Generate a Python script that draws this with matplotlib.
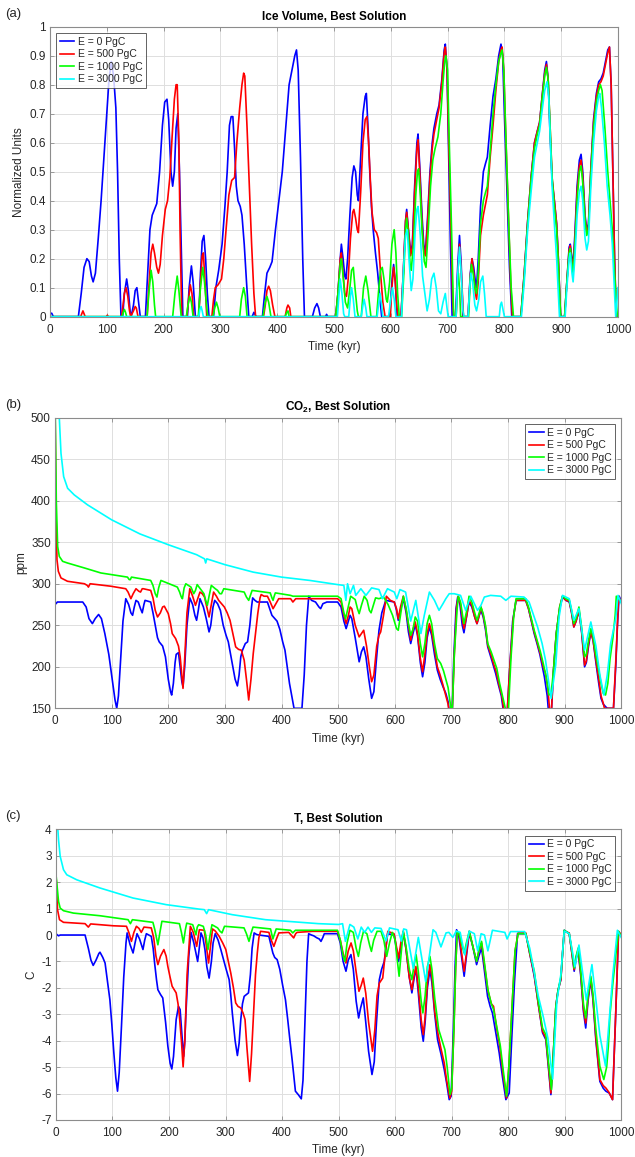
import numpy as np
import matplotlib
matplotlib.use('Agg')
import matplotlib.pyplot as plt
from matplotlib.ticker import FuncFormatter

plt.rcParams['font.family'] = ['Liberation Sans', 'DejaVu Sans']
plt.rcParams['mathtext.fontset'] = 'custom'
plt.rcParams['mathtext.rm'] = 'Liberation Sans'
plt.rcParams['mathtext.bf'] = 'Liberation Sans:bold'

emissions = [0, 500, 1000, 3000]
colors = ['#0000ff', '#ff0000', '#00ff00', '#00ffff']

# ---- ice volume (normalized), (time kyr, value) ----
ice_e0 = [(0, 0.01), (3, 0.012), (6, 0), (50, 0), (55, 0.08), (60, 0.17), (65, 0.2), (69, 0.19), (73, 0.14),
          (76, 0.12), (80, 0.15), (85, 0.27), (90, 0.4), (95, 0.55), (100, 0.7), (104, 0.82), (108, 0.88),
          (112, 0.83), (116, 0.72), (119, 0.5), (122, 0.2), (125, 0), (128, 0), (131, 0.08), (135, 0.13),
          (138, 0.09), (141, 0.02), (143, 0), (147, 0.04), (150, 0.09), (153, 0.1), (156, 0.05), (159, 0),
          (168, 0), (172, 0.15), (176, 0.3), (180, 0.35), (184, 0.37), (188, 0.39), (193, 0.5), (198, 0.66),
          (202, 0.74), (206, 0.75), (209, 0.68), (213, 0.5), (216, 0.45), (219, 0.5), (222, 0.65), (225, 0.7),
          (228, 0.5), (231, 0.25), (234, 0), (242, 0), (245, 0.1), (249, 0.175), (252, 0.12), (256, 0),
          (262, 0), (265, 0.15), (268, 0.26), (271, 0.28), (274, 0.2), (277, 0.08), (280, 0), (288, 0),
          (292, 0.1), (297, 0.16), (303, 0.25), (308, 0.38), (312, 0.5), (316, 0.66), (319, 0.69), (322, 0.69),
          (325, 0.58), (328, 0.45), (331, 0.4), (335, 0.38), (338, 0.35), (342, 0.25), (346, 0.12), (350, 0),
          (356, 0), (359, 0.015), (363, 0), (374, 0), (378, 0.08), (382, 0.15), (387, 0.17), (391, 0.19),
          (397, 0.3), (403, 0.4), (409, 0.5), (415, 0.65), (421, 0.8), (426, 0.85), (431, 0.9), (434, 0.92),
          (437, 0.85), (441, 0.55), (445, 0.2), (448, 0), (462, 0), (466, 0.03), (470, 0.045), (473, 0.03),
          (476, 0), (485, 0), (487, 0.008), (489, 0), (503, 0), (507, 0.08), (511, 0.2), (513, 0.25),
          (516, 0.2), (519, 0.14), (521, 0.13), (524, 0.2), (528, 0.35), (532, 0.48), (535, 0.52), (538, 0.5),
          (541, 0.42), (543, 0.4), (547, 0.55), (551, 0.7), (555, 0.76), (557, 0.77), (560, 0.65), (563, 0.5),
          (566, 0.38), (569, 0.3), (573, 0.22), (577, 0.15), (581, 0.06), (584, 0), (598, 0), (602, 0.12),
          (605, 0.18), (608, 0.12), (611, 0), (618, 0), (622, 0.15), (626, 0.33), (628, 0.37), (631, 0.3),
          (635, 0.22), (638, 0.25), (642, 0.45), (646, 0.6), (648, 0.63), (651, 0.52), (655, 0.35), (658, 0.25),
          (661, 0.22), (665, 0.35), (669, 0.5), (673, 0.6), (676, 0.65), (681, 0.7), (685, 0.73), (690, 0.82),
          (694, 0.92), (696, 0.94), (699, 0.85), (702, 0.55), (705, 0.25), (708, 0), (714, 0), (718, 0.18),
          (721, 0.28), (724, 0.18), (727, 0), (736, 0), (740, 0.15), (743, 0.2), (746, 0.17), (749, 0.12),
          (751, 0.1), (754, 0.2), (758, 0.38), (763, 0.5), (767, 0.53), (770, 0.55), (775, 0.66), (780, 0.76),
          (785, 0.82), (790, 0.9), (794, 0.94), (797, 0.9), (800, 0.7), (805, 0.4), (809, 0.17), (813, 0),
          (829, 0), (835, 0.15), (841, 0.33), (847, 0.48), (853, 0.6), (858, 0.64), (862, 0.67), (867, 0.77),
          (871, 0.85), (874, 0.88), (877, 0.82), (880, 0.65), (884, 0.47), (888, 0.4), (892, 0.32), (895, 0.2),
          (899, 0), (906, 0), (910, 0.12), (914, 0.24), (916, 0.25), (919, 0.2), (921, 0.18), (924, 0.28),
          (928, 0.45), (932, 0.54), (935, 0.56), (938, 0.5), (942, 0.35), (945, 0.3), (948, 0.32), (952, 0.5),
          (957, 0.68), (962, 0.77), (966, 0.81), (970, 0.82), (974, 0.84), (978, 0.88), (982, 0.92), (985, 0.93),
          (988, 0.8), (991, 0.5), (994, 0.2), (997, 0), (1000, 0)]

ice_e500 = [(0, 0), (54, 0), (56, 0.01), (58, 0.02), (60, 0.01), (62, 0), (99, 0), (101, 0.005), (103, 0),
            (126, 0), (128, 0.03), (131, 0.08), (134, 0.1), (137, 0.07), (140, 0.02), (142, 0), (147, 0.02),
            (150, 0.035), (152, 0.03), (155, 0), (171, 0), (174, 0.1), (178, 0.22), (181, 0.25), (184, 0.22),
            (188, 0.17), (191, 0.15), (194, 0.18), (198, 0.28), (203, 0.37), (207, 0.4), (211, 0.48),
            (215, 0.62), (219, 0.75), (222, 0.8), (224, 0.8), (227, 0.6), (229, 0.3), (232, 0), (241, 0),
            (244, 0.06), (247, 0.11), (250, 0.08), (253, 0), (262, 0), (265, 0.12), (268, 0.21), (270, 0.22),
            (273, 0.12), (276, 0), (285, 0), (288, 0.06), (291, 0.1), (296, 0.11), (302, 0.13), (306, 0.2),
            (310, 0.3), (315, 0.42), (320, 0.47), (325, 0.48), (329, 0.6), (334, 0.72), (338, 0.8), (341, 0.84),
            (343, 0.83), (347, 0.65), (351, 0.45), (355, 0.25), (359, 0.08), (362, 0), (376, 0), (379, 0.04),
            (382, 0.09), (385, 0.105), (388, 0.09), (392, 0.04), (396, 0), (414, 0), (417, 0.03), (419, 0.04),
            (422, 0.03), (424, 0), (503, 0), (507, 0.08), (511, 0.2), (513, 0.22), (516, 0.15), (519, 0.08),
            (522, 0.07), (525, 0.13), (529, 0.27), (533, 0.36), (535, 0.37), (538, 0.34), (541, 0.3),
            (543, 0.29), (547, 0.43), (551, 0.6), (555, 0.68), (558, 0.69), (561, 0.6), (564, 0.47),
            (567, 0.36), (571, 0.3), (575, 0.29), (578, 0.27), (582, 0.15), (586, 0.05), (590, 0), (599, 0),
            (602, 0.1), (605, 0.17), (608, 0.12), (611, 0.03), (613, 0), (618, 0), (622, 0.15), (626, 0.33),
            (628, 0.36), (631, 0.3), (635, 0.21), (638, 0.24), (642, 0.43), (646, 0.58), (648, 0.61),
            (651, 0.5), (655, 0.32), (658, 0.23), (661, 0.21), (665, 0.33), (669, 0.48), (673, 0.58),
            (676, 0.63), (681, 0.68), (685, 0.72), (690, 0.81), (694, 0.91), (696, 0.93), (699, 0.86),
            (702, 0.6), (706, 0.3), (709, 0.05), (711, 0), (715, 0), (718, 0.15), (721, 0.25), (724, 0.16),
            (728, 0), (736, 0), (740, 0.14), (743, 0.2), (746, 0.15), (749, 0.08), (751, 0.06), (754, 0.12),
            (758, 0.28), (763, 0.35), (767, 0.39), (770, 0.42), (775, 0.55), (780, 0.66), (785, 0.78),
            (790, 0.88), (794, 0.92), (796, 0.93), (799, 0.85), (802, 0.65), (807, 0.35), (811, 0.12), (814, 0),
            (829, 0), (835, 0.15), (841, 0.33), (847, 0.48), (853, 0.6), (858, 0.64), (862, 0.67), (867, 0.77),
            (871, 0.84), (874, 0.87), (877, 0.82), (880, 0.68), (884, 0.48), (888, 0.4), (892, 0.32),
            (895, 0.2), (899, 0), (906, 0), (910, 0.12), (914, 0.23), (916, 0.245), (919, 0.19), (921, 0.16),
            (924, 0.26), (928, 0.43), (932, 0.52), (935, 0.54), (938, 0.48), (942, 0.34), (945, 0.29),
            (948, 0.31), (952, 0.5), (957, 0.67), (962, 0.76), (966, 0.8), (970, 0.81), (974, 0.83),
            (978, 0.87), (982, 0.91), (985, 0.93), (988, 0.8), (991, 0.5), (994, 0.2), (997, 0), (1000, 0)]

ice_e1000 = [(0, 0), (127, 0), (129, 0.015), (131, 0.025), (133, 0.015), (135, 0), (171, 0), (174, 0.08),
             (178, 0.16), (181, 0.12), (184, 0.04), (186, 0), (216, 0), (220, 0.08), (224, 0.14), (227, 0.09),
             (231, 0), (240, 0), (243, 0.04), (246, 0.07), (249, 0.05), (252, 0), (261, 0), (265, 0.1),
             (269, 0.17), (272, 0.12), (276, 0.03), (278, 0), (287, 0), (290, 0.03), (293, 0.05), (296, 0.03),
             (299, 0), (334, 0), (337, 0.06), (341, 0.1), (344, 0.07), (347, 0), (375, 0), (379, 0.05),
             (382, 0.07), (385, 0.05), (389, 0), (414, 0), (417, 0.015), (419, 0.02), (421, 0), (503, 0),
             (507, 0.08), (511, 0.18), (513, 0.2), (516, 0.14), (520, 0.05), (524, 0.03), (528, 0.1),
             (531, 0.16), (534, 0.17), (537, 0.1), (541, 0.02), (543, 0), (548, 0), (552, 0.1), (556, 0.14),
             (560, 0.09), (565, 0), (575, 0), (579, 0.1), (582, 0.16), (585, 0.17), (588, 0.13), (592, 0.06),
             (594, 0.05), (598, 0.12), (602, 0.25), (606, 0.3), (609, 0.22), (612, 0.08), (615, 0), (619, 0),
             (623, 0.15), (626, 0.3), (628, 0.34), (631, 0.28), (634, 0.18), (636, 0.16), (640, 0.25),
             (644, 0.42), (647, 0.5), (649, 0.51), (652, 0.42), (655, 0.3), (659, 0.19), (662, 0.17),
             (666, 0.3), (670, 0.45), (674, 0.54), (678, 0.58), (683, 0.62), (688, 0.7), (692, 0.81),
             (695, 0.88), (697, 0.9), (700, 0.85), (703, 0.6), (707, 0.3), (710, 0.05), (711, 0), (715, 0),
             (717, 0.1), (719, 0.15), (721, 0.1), (723, 0), (737, 0), (740, 0.13), (742, 0.18), (745, 0.15),
             (748, 0.1), (751, 0.08), (754, 0.15), (758, 0.32), (763, 0.4), (767, 0.43), (770, 0.45),
             (775, 0.57), (780, 0.7), (785, 0.8), (790, 0.88), (794, 0.91), (796, 0.92), (799, 0.85),
             (803, 0.6), (808, 0.3), (812, 0.1), (816, 0), (829, 0), (835, 0.14), (841, 0.32), (847, 0.47),
             (853, 0.58), (858, 0.63), (862, 0.66), (867, 0.76), (871, 0.83), (874, 0.86), (877, 0.82),
             (880, 0.68), (884, 0.48), (888, 0.38), (892, 0.3), (895, 0.18), (899, 0), (906, 0), (910, 0.12),
             (914, 0.22), (916, 0.235), (919, 0.18), (921, 0.15), (924, 0.24), (928, 0.4), (932, 0.5),
             (935, 0.52), (938, 0.46), (942, 0.33), (945, 0.28), (948, 0.3), (952, 0.48), (957, 0.65),
             (962, 0.74), (966, 0.78), (969, 0.8), (972, 0.78), (977, 0.65), (982, 0.5), (986, 0.4),
             (990, 0.3), (994, 0.15), (997, 0.05), (999, 0), (1000, 0)]

ice_e3000 = [(0, 0), (262, 0), (264, 0.025), (266, 0.035), (268, 0.02), (270, 0), (506, 0), (509, 0.08),
             (511, 0.13), (514, 0.08), (517, 0.01), (519, 0), (526, 0), (529, 0.07), (531, 0.1), (534, 0.06),
             (537, 0), (548, 0), (551, 0.04), (553, 0.06), (556, 0.03), (558, 0), (576, 0), (579, 0.05),
             (581, 0.08), (584, 0.04), (586, 0), (596, 0), (600, 0.06), (603, 0.1), (606, 0.06), (609, 0),
             (619, 0), (622, 0.15), (626, 0.28), (629, 0.3), (632, 0.2), (636, 0.09), (639, 0.13), (643, 0.3),
             (646, 0.37), (648, 0.38), (652, 0.28), (656, 0.14), (660, 0.08), (664, 0.02), (668, 0.06),
             (672, 0.13), (676, 0.15), (680, 0.1), (684, 0.02), (688, 0.01), (692, 0.05), (696, 0.08),
             (699, 0.03), (701, 0), (715, 0), (718, 0.15), (721, 0.24), (724, 0.15), (727, 0.02), (729, 0),
             (736, 0), (739, 0.1), (741, 0.15), (744, 0.12), (748, 0.04), (751, 0.02), (755, 0.06),
             (758, 0.12), (762, 0.14), (765, 0.08), (768, 0), (791, 0), (793, 0.04), (795, 0.05), (798, 0.02),
             (800, 0), (830, 0), (835, 0.12), (841, 0.3), (847, 0.43), (853, 0.55), (858, 0.6), (862, 0.64),
             (867, 0.72), (871, 0.78), (875, 0.81), (878, 0.76), (881, 0.6), (884, 0.45), (888, 0.32),
             (892, 0.2), (895, 0.08), (897, 0), (907, 0), (910, 0.1), (914, 0.2), (916, 0.22), (919, 0.15),
             (921, 0.12), (924, 0.2), (928, 0.35), (932, 0.43), (935, 0.45), (938, 0.4), (942, 0.27),
             (945, 0.23), (948, 0.26), (952, 0.44), (957, 0.6), (962, 0.71), (966, 0.76), (968, 0.77),
             (971, 0.72), (976, 0.6), (981, 0.45), (986, 0.35), (990, 0.25), (994, 0.08), (996, 0),
             (998, 0.05), (1000, 0.1)]

# ---- CO2 (ppm) ----
co2_e0 = [(0, 278), (2, 276), (4, 278), (49, 278), (55, 272), (60, 258), (66, 252), (71, 258), (77, 263),
          (82, 258), (88, 240), (95, 215), (101, 185), (106, 160), (109, 150), (112, 165), (116, 210),
          (120, 255), (125, 282), (130, 275), (134, 265), (137, 262), (140, 272), (143, 280), (147, 278),
          (151, 270), (154, 265), (157, 275), (159, 280), (169, 278), (173, 265), (177, 250), (181, 235),
          (184, 230), (190, 225), (195, 212), (200, 185), (204, 170), (206, 166), (209, 180), (212, 205),
          (214, 215), (218, 217), (221, 200), (224, 182), (226, 176), (229, 200), (233, 250), (238, 283),
          (243, 275), (247, 262), (250, 256), (253, 268), (256, 282), (262, 272), (267, 258), (272, 242),
          (275, 250), (279, 272), (282, 280), (287, 276), (292, 268), (297, 250), (302, 238), (306, 230),
          (310, 215), (314, 200), (318, 185), (322, 177), (325, 190), (328, 212), (331, 220), (336, 228),
          (340, 230), (344, 250), (347, 272), (349, 283), (353, 280), (357, 278), (375, 278), (379, 270),
          (383, 262), (388, 258), (392, 255), (397, 245), (402, 230), (406, 220), (410, 200), (414, 180),
          (418, 165), (422, 150), (436, 150), (440, 190), (444, 250), (448, 285), (453, 280), (460, 278),
          (466, 272), (469, 270), (473, 276), (480, 278), (499, 278), (505, 272), (510, 255), (514, 246),
          (518, 255), (521, 262), (524, 258), (530, 235), (537, 206), (541, 218), (545, 224), (549, 212),
          (554, 185), (559, 162), (563, 170), (567, 205), (572, 244), (577, 265), (584, 280), (592, 279),
          (599, 278), (603, 268), (606, 256), (610, 268), (615, 282), (620, 265), (624, 242), (628, 228),
          (632, 240), (636, 251), (640, 238), (645, 205), (649, 188), (653, 205), (657, 235), (661, 248),
          (665, 238), (670, 215), (675, 196), (680, 185), (685, 176), (690, 168), (694, 158), (697, 140),
          (701, 140), (704, 210), (708, 270), (711, 284), (715, 275), (719, 250), (722, 241), (726, 258),
          (731, 278), (736, 272), (741, 260), (745, 252), (749, 262), (752, 268), (756, 260), (760, 245),
          (764, 224), (768, 215), (772, 206), (778, 192), (783, 178), (788, 165), (793, 140), (798, 140),
          (802, 190), (808, 255), (814, 280), (822, 280), (831, 280), (836, 270), (841, 255), (846, 240),
          (851, 228), (856, 215), (861, 198), (864, 188), (869, 165), (872, 140), (876, 140), (880, 195),
          (885, 240), (891, 270), (896, 284), (902, 280), (908, 278), (912, 265), (916, 248), (920, 255),
          (925, 268), (930, 240), (935, 200), (938, 205), (942, 225), (946, 242), (950, 232), (955, 205),
          (960, 180), (964, 162), (968, 155), (972, 152), (975, 150), (986, 150), (990, 200), (993, 250),
          (996, 285), (998, 282), (1000, 279)]

co2_e500 = [(0, 520), (1.8, 385), (3.5, 329), (5.9, 315), (10.6, 307), (22, 303), (52, 300), (57, 298),
            (59, 296), (62, 300), (99, 297), (125, 294), (129, 290), (134, 282), (138, 288), (143, 294),
            (148, 291), (151, 290), (154, 294), (156, 294), (169, 292), (173, 283), (177, 268), (181, 260),
            (186, 265), (190, 272), (193, 273), (197, 268), (200, 264), (204, 252), (207, 240), (213, 234),
            (218, 225), (221, 212), (224, 190), (226, 174), (229, 210), (233, 265), (238, 294), (243, 285),
            (248, 274), (252, 282), (256, 290), (260, 288), (264, 284), (268, 272), (272, 260), (276, 275),
            (280, 290), (285, 285), (289, 280), (294, 276), (299, 272), (304, 265), (309, 256), (314, 240),
            (319, 224), (324, 221), (329, 220), (334, 208), (338, 185), (342, 160), (346, 185), (350, 216),
            (354, 240), (358, 264), (362, 283), (364, 287), (369, 285), (375, 285), (380, 278), (385, 270),
            (390, 276), (395, 282), (416, 282), (420, 278), (425, 282), (499, 282), (505, 278), (510, 262),
            (514, 252), (518, 262), (521, 272), (524, 270), (530, 250), (537, 236), (541, 240), (545, 244),
            (550, 225), (555, 200), (559, 182), (563, 190), (568, 225), (572, 238), (575, 242), (580, 262),
            (585, 285), (592, 280), (599, 278), (603, 270), (606, 258), (610, 272), (615, 285), (620, 268),
            (624, 250), (628, 232), (632, 245), (636, 254), (640, 240), (645, 210), (649, 194), (653, 215),
            (657, 240), (661, 252), (665, 242), (670, 222), (675, 200), (680, 190), (685, 178), (690, 165),
            (694, 155), (697, 140), (701, 140), (705, 215), (709, 272), (712, 285), (716, 275), (720, 254),
            (722, 246), (727, 262), (731, 280), (736, 274), (741, 260), (745, 252), (749, 262), (752, 272),
            (756, 262), (760, 248), (764, 226), (770, 214), (775, 202), (779, 194), (784, 178), (789, 165),
            (794, 140), (798, 140), (803, 200), (809, 258), (814, 280), (822, 280), (831, 280), (836, 270),
            (841, 256), (846, 242), (851, 230), (857, 215), (862, 200), (866, 192), (870, 175), (873, 150),
            (876, 140), (880, 195), (885, 240), (891, 272), (896, 285), (902, 280), (908, 279), (912, 266),
            (916, 248), (920, 255), (925, 268), (930, 242), (935, 202), (938, 207), (942, 228), (946, 242),
            (950, 232), (955, 208), (960, 185), (964, 165), (968, 156), (970, 150), (986, 150), (991, 220),
            (995, 285), (998, 280), (1000, 279)]

co2_e1000 = [(0, 520), (0.6, 500), (2.3, 400), (4.7, 345), (7.6, 333), (13.5, 327), (22, 325), (52, 319),
             (81, 313), (128, 308), (131, 305), (133, 305), (135, 308), (169, 304), (173, 298), (177, 288),
             (180, 284), (183, 295), (187, 304), (198, 301), (216, 296), (220, 290), (223, 284), (225, 282),
             (228, 295), (231, 300), (240, 296), (245, 288), (248, 292), (251, 299), (263, 288), (266, 280),
             (269, 274), (272, 285), (276, 298), (283, 294), (287, 292), (291, 288), (294, 288), (298, 294),
             (334, 290), (338, 284), (342, 280), (345, 286), (348, 292), (380, 289), (383, 283), (385, 280),
             (387, 285), (389, 289), (416, 286), (420, 285), (499, 285), (505, 282), (510, 265), (513, 258),
             (517, 270), (522, 285), (530, 281), (534, 270), (537, 264), (541, 274), (546, 285), (551, 280),
             (555, 268), (558, 265), (562, 274), (566, 283), (572, 282), (580, 284), (588, 275), (596, 262),
             (603, 246), (606, 244), (610, 262), (615, 285), (620, 270), (624, 252), (628, 238), (632, 245),
             (636, 260), (640, 255), (645, 228), (649, 212), (653, 228), (657, 252), (661, 262), (665, 252),
             (670, 228), (675, 210), (681, 204), (686, 195), (690, 185), (694, 175), (697, 160), (701, 140),
             (705, 215), (710, 270), (712, 285), (716, 278), (720, 260), (722, 252), (727, 268), (731, 285),
             (736, 278), (741, 265), (745, 256), (749, 265), (752, 272), (756, 264), (760, 250), (764, 228),
             (770, 218), (775, 208), (780, 198), (785, 180), (790, 165), (795, 150), (797, 140), (800, 140),
             (805, 210), (810, 262), (814, 282), (822, 282), (831, 282), (836, 272), (841, 258), (846, 244),
             (851, 232), (857, 218), (862, 204), (868, 185), (872, 166), (876, 168), (880, 195), (885, 240),
             (891, 272), (896, 285), (902, 282), (908, 280), (912, 268), (916, 252), (920, 258), (925, 272),
             (930, 246), (935, 212), (938, 215), (942, 232), (946, 246), (950, 236), (955, 214), (960, 195),
             (964, 180), (968, 168), (972, 166), (976, 180), (980, 210), (985, 235), (989, 262), (991, 285),
             (995, 282), (1000, 278)]

co2_e3000 = [(7.6, 500), (10.6, 457), (15.3, 429), (22.3, 415), (34, 407), (57.5, 395), (100, 377),
             (150, 360), (200, 347), (250, 335), (264, 330), (266, 325), (268, 330), (300, 323), (350, 314),
             (400, 308), (450, 304), (499, 299), (510, 298), (513.5, 280), (516.5, 300), (521, 288),
             (527, 298), (531, 286), (540, 294), (549, 286), (559, 295), (572, 293), (578, 282), (587, 294),
             (599, 290), (603.5, 282), (609, 293), (619, 290), (628, 255), (637, 280), (646, 240), (652, 262),
             (661, 290), (670, 280), (678, 268), (685, 276), (690, 282), (696, 288), (705, 288), (716, 286),
             (725, 268), (734, 285), (746, 268), (752, 274), (758, 284), (769, 286), (787, 285), (796, 280),
             (805, 285), (828, 284), (837, 278), (845, 262), (852, 248), (860, 228), (866, 208), (872, 180),
             (876, 162), (884, 202), (890, 260), (896, 286), (908, 282), (916, 256), (925, 270), (935, 220),
             (946, 254), (955, 225), (962, 190), (969, 166), (975, 190), (981, 228), (990, 258), (994, 286),
             (1000, 276)]

# ---- temperature anomaly (C) ----
temp_e0 = [(0, 0.05), (4.7, -0.03), (7.6, 0), (51.6, 0), (57.4, -0.5), (62, -0.95), (66, -1.15), (71, -0.95),
           (76, -0.7), (78, -0.65), (83, -0.85), (87, -1.06), (91, -1.7), (95.5, -2.45), (99, -3.4),
           (102.5, -4.46), (106, -5.4), (109, -5.91), (112, -5.2), (116, -3.45), (120, -1.6), (124, -0.3),
           (126, 0.08), (131, -0.35), (136.5, -0.68), (140, -0.3), (143.5, 0.05), (148, -0.15), (154, -0.55),
           (157, -0.2), (160, 0.05), (168.7, -0.05), (172, -0.5), (174.6, -1.06), (178, -1.7), (180.4, -2.07),
           (185, -2.25), (189, -2.38), (194, -3.3), (198, -4.2), (202, -4.85), (205, -5.07), (208, -4.6),
           (212.7, -3.2), (216.8, -2.7), (219.7, -2.82), (223, -3.8), (226, -4.59), (228, -4.0), (230, -2.95),
           (235, -0.8), (239, 0.1), (244, -0.3), (250.7, -1.0), (253, -0.6), (256.6, 0.08), (260, -0.1),
           (263.6, -0.55), (267, -1.2), (271, -1.63), (275, -1.0), (278, -0.3), (281.8, 0.05), (287, -0.2),
           (291.7, -0.55), (296, -0.9), (300.5, -1.25), (306.4, -1.69), (309, -2.2), (312, -2.95), (317, -4.0),
           (321, -4.56), (324, -4.1), (327, -3.2), (330, -2.6), (333, -2.32), (337, -2.25), (340.6, -2.19),
           (344, -1.5), (347, -0.5), (350.6, 0.08), (355, 0.02), (359, 0), (376.7, -0.05), (383.7, -0.68),
           (387, -0.85), (391.3, -0.93), (396, -1.3), (401, -1.9), (406, -2.45), (410, -3.2), (414, -4.0),
           (417.7, -4.7), (423.6, -5.91), (429, -6.05), (434, -6.2), (437, -5.5), (441, -2.95), (444, -1.0),
           (447, 0.05), (452, 0.0), (456, -0.03), (461, -0.1), (465.8, -0.15), (468.8, -0.24), (472, -0.1),
           (474.7, 0.05), (498, 0.05), (503, -0.3), (508, -1.0), (513, -1.37), (517, -0.95), (521.8, -0.74),
           (526, -1.3), (531, -2.5), (535.4, -3.14), (539, -2.75), (543.6, -2.38), (548, -3.3), (553, -4.4),
           (559, -5.28), (563, -4.8), (567, -3.3), (572, -1.69), (576, -1.3), (580.7, -1.0), (584, -0.4),
           (586.6, 0.05), (598.4, 0), (602, -0.5), (606, -1.0), (610, -0.5), (614.3, 0.08), (619, -0.5),
           (625, -1.6), (629.6, -2.19), (633, -1.7), (636.7, -1.25), (641, -2.2), (646, -3.5), (649.7, -4.02),
           (653, -3.3), (657, -2.0), (661.5, -1.31), (665, -1.8), (670, -3.0), (675, -3.96), (681, -4.5),
           (686.8, -5.09), (691, -5.6), (695.6, -6.23), (699, -6.1), (703, -3.5), (706, -1.2), (708.6, 0.2),
           (712, 0.05), (716, -0.6), (722, -1.56), (726, -0.8), (731, 0.08), (737, -0.4), (744, -1.12),
           (748, -0.8), (752.8, -0.49), (757, -1.2), (763.4, -2.32), (768, -2.7), (772, -2.95), (778, -3.7),
           (784, -4.46), (790, -5.4), (795.8, -6.23), (801.7, -5.98), (806, -4.0), (811, -1.8), (816.4, 0.05),
           (831, 0.05), (838, -0.7), (846, -1.56), (853, -2.6), (860.6, -3.7), (866.5, -3.96), (871, -5.0),
           (875.4, -6.04), (879, -4.8), (884.2, -2.7), (888, -2.1), (893, -1.69), (896, -0.7), (899, 0.18),
           (907.8, 0.05), (912, -0.6), (916.6, -1.37), (920, -0.9), (923.7, -0.62), (928, -1.5), (933, -2.9),
           (937, -3.52), (941, -2.5), (946, -1.69), (950, -2.5), (955, -4.0), (962, -5.54), (968, -5.8),
           (972.6, -5.91), (978.5, -5.98), (984.4, -6.23), (990, -3.0), (995, 0.1), (1000, 0.0)]

temp_e500 = [(0, 0), (0.6, 2.1), (2.9, 0.96), (6.4, 0.58), (13.5, 0.48), (51.6, 0.43), (57.4, 0.3),
             (61.5, 0.42), (101.3, 0.35), (124.8, 0.33), (129, 0.1), (133.6, -0.24), (138, 0.1), (142.4, 0.33),
             (147, 0.25), (151, 0.1), (155.8, 0.3), (168.7, 0.27), (173, -0.1), (177, -0.8), (180.4, -1.12),
             (185, -0.8), (191, -0.55), (195, -0.8), (198, -1.19), (202, -1.6), (205.6, -1.94), (212.7, -2.19),
             (216, -2.6), (218.5, -3.08), (222, -4.0), (225, -4.99), (228, -4.0), (232, -1.5), (237.8, 0.33),
             (243, 0.1), (249, -0.43), (253.7, 0.2), (262.5, 0.18), (266, -0.4), (270, -1.06), (273, -0.5),
             (277, 0.23), (282, 0.15), (288.8, -0.05), (295, -0.3), (300.5, -0.55), (305, -1.0), (309.3, -1.44),
             (314, -2.0), (318, -2.57), (322, -2.7), (327, -2.76), (331, -2.95), (334.5, -3.2), (338, -4.3),
             (342.7, -5.54), (346, -4.5), (350.3, -2.7), (353, -1.5), (356.2, -0.68), (359, -0.1), (362, 0.14),
             (376.7, 0.1), (381, -0.2), (385.5, -0.43), (390, -0.15), (394.3, 0.08), (411.8, 0.1), (416, 0.0),
             (420.6, -0.11), (424, 0.05), (426.5, 0.1), (454, 0.14), (498, 0.14), (503, -0.2), (508, -0.7),
             (513, -1.06), (517, -0.6), (522, -0.3), (526, -0.6), (531, -1.4), (536, -2.13), (540, -1.9),
             (543.6, -1.63), (548, -2.2), (553, -3.3), (560, -4.4), (564, -3.6), (568, -2.3), (572, -1.82),
             (578, -1.63), (583, -0.6), (587, 0.14), (598, 0.05), (602, -0.4), (606, -0.87), (610, -0.3),
             (614.3, 0.14), (619, -0.5), (625, -1.6), (629.6, -2.07), (633, -1.6), (636.7, -1.19), (641, -2.0),
             (646, -3.2), (649.7, -3.77), (653, -3.1), (657, -1.8), (661.5, -1.12), (665, -1.6), (670, -2.9),
             (676, -3.77), (681, -4.3), (686.8, -4.84), (691, -5.5), (696.8, -6.17), (700, -5.9), (704, -3.5),
             (707, -1.2), (709.8, 0.14), (713, 0.05), (717, -0.6), (722, -1.37), (726, -0.7), (731, 0.14),
             (737, -0.4), (744, -1.0), (748, -0.6), (752.8, -0.3), (757, -1.0), (764, -2.1), (770, -2.6),
             (774, -2.7), (780, -3.6), (785, -4.2), (791, -5.3), (797, -6.17), (801, -5.0), (806, -3.0),
             (812, -0.6), (817.5, 0.08), (831, 0.08), (838, -0.7), (846, -1.5), (853, -2.6), (860.6, -3.64),
             (866.5, -3.9), (871, -4.9), (875.4, -5.98), (879, -4.8), (884.2, -2.7), (888, -2.1), (893, -1.69),
             (896, -0.7), (899, 0.14), (907.8, 0.08), (912, -0.6), (916.6, -1.31), (920, -0.85), (923.7, -0.55),
             (928, -1.4), (933, -2.8), (937, -3.33), (941, -2.4), (946, -1.63), (950, -2.4), (955, -3.9),
             (962, -5.47), (968, -5.7), (972.6, -5.79), (978, -5.95), (984.4, -6.23), (990, -3.0), (995, 0.14),
             (1000, 0.01)]

temp_e1000 = [(0, 0), (0.6, 2.2), (2.3, 1.8), (4.7, 1.27), (7.6, 1.02), (13.5, 0.92), (31, 0.83), (78, 0.73),
              (127.7, 0.58), (131.8, 0.43), (135.3, 0.58), (171.6, 0.48), (175, 0.2), (180.4, -0.37),
              (184, 0.1), (187.5, 0.52), (218.5, 0.43), (222, 0.1), (225.5, -0.3), (229, 0.2), (231.4, 0.45),
              (242, 0.39), (245, 0.2), (247.8, 0.01), (250, 0.3), (252.5, 0.39), (260.7, 0.33), (265, 0.0),
              (269, -0.55), (272, -0.1), (276, 0.39), (286, 0.27), (290, 0.15), (293.7, 0.08), (298.2, 0.33),
              (332.7, 0.27), (337, 0.05), (341.5, -0.24), (345, 0.05), (348.6, 0.3), (379.6, 0.23),
              (383.7, -0.15), (386, 0.0), (389.6, 0.23), (414.8, 0.18), (418.9, 0.08), (423.6, 0.18),
              (498, 0.18), (503, -0.2), (508, -0.8), (511, -1.0), (515, -0.3), (520, 0.18), (526, 0.1),
              (531, -0.5), (535, -0.81), (539, -0.3), (544, 0.14), (550, 0.05), (555, -0.4), (558, -0.62),
              (562, -0.2), (568, 0.14), (575, 0.14), (580, -0.2), (585, -0.81), (590, -0.3), (595, 0.1),
              (600, -0.2), (604, -1.0), (607, -1.56), (611, -0.6), (614.3, 0.14), (619, -0.4), (625, -1.3),
              (629.6, -1.69), (633, -1.2), (637, -0.74), (641, -1.4), (646, -2.5), (649, -2.95), (653, -2.3),
              (657, -1.2), (661.5, -0.81), (665, -1.3), (670, -2.4), (677, -3.58), (683, -4.0), (688, -4.34),
              (692, -5.0), (697, -6.04), (700, -5.8), (704, -3.5), (707, -1.2), (709.8, 0.14), (713, 0.05),
              (717, -0.3), (722, -0.68), (726, -0.3), (731, 0.14), (737, -0.4), (744, -1.0), (748, -0.6),
              (752.8, -0.24), (757, -0.9), (764, -2.07), (770, -2.6), (774, -2.82), (780, -3.5), (786, -4.2),
              (791, -5.1), (797, -6.1), (801, -5.0), (806, -3.0), (812, -0.6), (817.5, 0.05), (831, 0.05),
              (838, -0.65), (846, -1.37), (853, -2.5), (860.6, -3.52), (866.5, -3.77), (871, -4.8),
              (876.4, -5.85), (879, -4.8), (884.2, -2.7), (888, -2.1), (893, -1.6), (896, -0.7), (899, 0.18),
              (907.8, 0.05), (912, -0.5), (916.6, -1.25), (920, -0.8), (923.7, -0.49), (928, -1.3), (933, -2.6),
              (937, -3.14), (941, -2.3), (946, -1.56), (950, -2.3), (955, -3.6), (962, -4.97), (969, -5.47),
              (974, -5.0), (977, -4.21), (980, -3.0), (985, -1.82), (990, -0.8), (995, 0.14), (1000, -0.05)]

temp_e3000 = [(0, 0), (0.3, 4.5), (2.9, 4.2), (4.7, 3.6), (7.6, 2.98), (13.5, 2.47), (19.3, 2.28),
              (36.9, 2.09), (78, 1.78), (136.5, 1.4), (195, 1.15), (253.7, 0.98), (262.5, 0.96), (266.6, 0.81),
              (270, 0.96), (312, 0.77), (370.8, 0.58), (464.6, 0.43), (500, 0.4), (507, 0.43), (512, -0.24),
              (520, 0.4), (527, 0.3), (534, -0.15), (540, 0.3), (546, 0.1), (552, 0.3), (558, 0.1), (564, 0.27),
              (575, 0.25), (584, -0.22), (590, 0.27), (605, 0.2), (611, -0.23), (615, 0.23), (620, 0.2),
              (632, -1.26), (641, -0.09), (654, -1.76), (667, 0.2), (672, 0.1), (681, -0.45), (690, 0.08),
              (695, 0.1), (702, -0.09), (708, 0.15), (715, 0.1), (723, -0.75), (731, 0.15), (740, 0.05),
              (746, -0.6), (752, 0.05), (758, 0.0), (764, -0.6), (772, 0.18), (794, 0.1), (798, -0.15),
              (804, 0.13), (829, 0.13), (838, -0.5), (845, -1.3), (853, -2.3), (862, -3.1), (870, -3.9),
              (878.5, -5.45), (886, -2.5), (893, -1.5), (899, 0.15), (908, 0.05), (918, -1.2), (925, -0.38),
              (938, -2.46), (948, -1.12), (962, -3.8), (972, -4.96), (985, -1.5), (993, 0.18), (1000, -0.1)]

ice_series = [ice_e0, ice_e500, ice_e1000, ice_e3000]
co2_series = [co2_e0, co2_e500, co2_e1000, co2_e3000]
temp_series = [temp_e0, temp_e500, temp_e1000, temp_e3000]

fig = plt.figure(figsize=(6.35, 11.57), dpi=100)

tick_col = '#262626'
box_col = '#8c8c8c'


def style_ax(ax, title, ylabel, yticks, ylim):
    ax.set_xlim(0, 1000)
    ax.set_ylim(*ylim)
    ax.set_xticks(np.arange(0, 1001, 100))
    ax.set_yticks(yticks)
    ax.yaxis.set_major_formatter(FuncFormatter(lambda v, p: f'{v:g}'))
    ax.grid(True, color='#dedede', lw=0.7)
    ax.set_axisbelow(True)
    ax.tick_params(direction='in', top=True, right=True, length=3, width=0.6,
                   colors=box_col, labelcolor=tick_col, labelsize=8.5)
    ax.tick_params(axis='x', pad=5)
    ax.tick_params(axis='y', pad=3)
    for sp in ax.spines.values():
        sp.set_edgecolor(box_col)
        sp.set_linewidth(0.8)
    ax.set_title(title, fontsize=8.5, fontweight='bold', color='black', pad=5)
    ax.set_xlabel('Time (kyr)', fontsize=8.5, color=tick_col, labelpad=4)
    ax.set_ylabel(ylabel, fontsize=8.5, color=tick_col, labelpad=3)


def draw(ax, series):
    for data, col, e in zip(series, colors, emissions):
        arr = np.array(data)
        ax.plot(arr[:, 0], arr[:, 1], color=col, lw=1.2, label=f'E = {e} PgC')


def legend(ax, loc):
    leg = ax.legend(loc=loc, fontsize=7.5, frameon=True, fancybox=False, handlelength=1.4,
                    handletextpad=0.3, borderpad=0.35, labelspacing=0.25, borderaxespad=0.6)
    leg.get_frame().set_edgecolor('#3a3a3a')
    leg.get_frame().set_linewidth(0.7)
    for t in leg.get_texts():
        t.set_color(tick_col)


ax1 = fig.add_axes([0.0787, 0.7263, 0.8945, 0.2506])
draw(ax1, ice_series)
style_ax(ax1, 'Ice Volume, Best Solution', 'Normalized Units', np.arange(0, 1.01, 0.1), (0, 1))
legend(ax1, 'upper left')

ax2 = fig.add_axes([0.0866, 0.3878, 0.8920, 0.2512])
draw(ax2, co2_series)
style_ax(ax2, r'CO$_\mathbf{2}$, Best Solution', 'ppm', np.arange(150, 501, 50), (150, 500))
legend(ax2, 'upper right')

ax3 = fig.add_axes([0.0880, 0.0320, 0.8905, 0.2512])
draw(ax3, temp_series)
style_ax(ax3, 'T, Best Solution', 'C', np.arange(-7, 5, 1), (-7, 4))
legend(ax3, 'upper right')

for ax, lab in zip([ax1, ax2, ax3], ['(a)', '(b)', '(c)']):
    pos = ax.get_position()
    fig.text(0.008, pos.y1 + 0.006, lab, fontsize=9.5, color=tick_col, ha='left', va='bottom')

fig.savefig('out.png', dpi=100)
